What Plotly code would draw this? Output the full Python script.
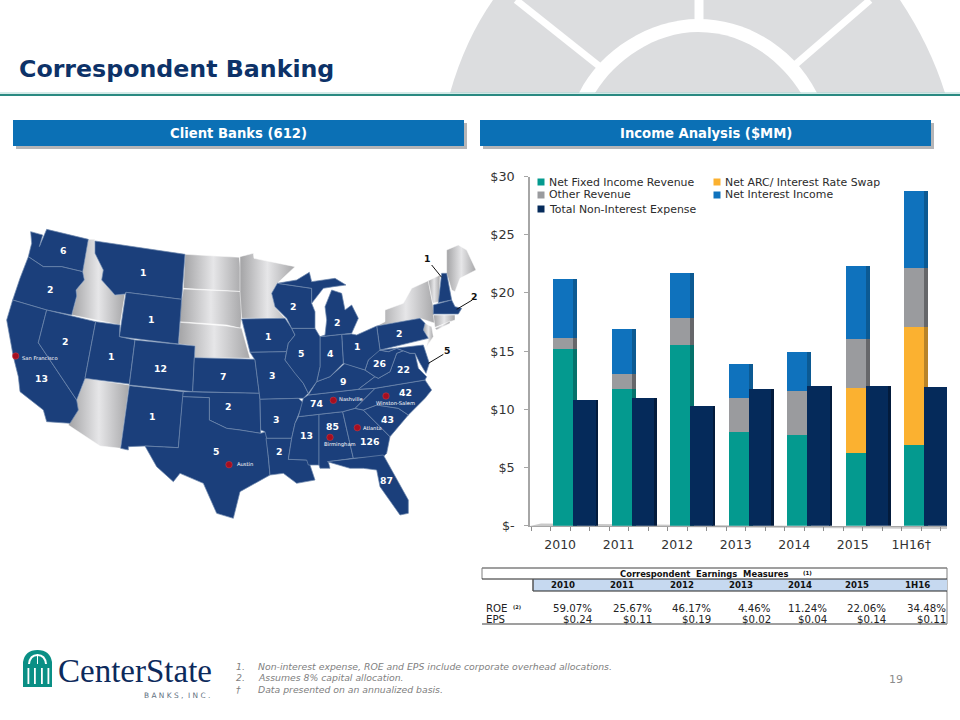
import numpy as np
import plotly.graph_objects as go

# ---------- chart data ----------
years = ["2010", "2011", "2012", "2013", "2014", "2015", "1H16\u2020"]
net_fixed = [15.2, 11.8, 15.6, 8.1, 7.85, 6.3, 6.95]
net_arc = [0, 0, 0, 0, 0, 5.6, 10.15]
other_rev = [1.0, 1.3, 2.25, 2.95, 3.8, 4.2, 5.05]
net_int = [5.05, 3.85, 3.9, 2.9, 3.3, 6.25, 6.65]
total_exp = [10.85, 11.0, 10.3, 11.75, 12.05, 12.05, 12.0]
y_ticks = [0, 5, 10, 15, 20, 25, 30]
y_labels = ["$-", "$5", "$10", "$15", "$20", "$25", "$30"]

table_years = ["2010", "2011", "2012", "2013", "2014", "2015", "1H16"]
roe = ["59.07%", "25.67%", "46.17%", "4.46%", "11.24%", "22.06%", "34.48%"]
eps = ["$0.24", "$0.11", "$0.19", "$0.02", "$0.04", "$0.14", "$0.11"]

map_states = ["WA","OR","MT","WY","NV","UT","CO","CA","KS","OK","NM","TX","WI","MI","IA","IL","IN","OH","PA",
              "WV","VA","MO","KY","NC","TN","AR","AL","MS","SC","GA","LA","FL"]
map_counts = [6,2,1,1,2,1,12,13,7,2,1,5,2,2,1,5,4,1,2,26,22,3,9,42,74,3,85,13,43,126,2,87]
callout_counts = [1, 2, 5]

TEAL, ORANGE, GREY, BLUE, NAVY = "#049a8f", "#fbb130", "#9a9b9e", "#0f72bd", "#052a5a"
SIDE = {TEAL: "#05726b", ORANGE: "#b98428", GREY: "#66676a", BLUE: "#0c5a93", NAVY: "#031b3c"}
series = [("Net Fixed Income Revenue", net_fixed, TEAL), ("Net ARC / Interest Rate Swap", net_arc, ORANGE),
          ("Other Revenue", other_rev, GREY), ("Net Interest Income", net_int, BLUE)]

W, H = 960, 720
def X(x): return x / W
def Y(y): return 1 - y / H

fig = go.Figure()
cats = np.arange(len(years))

# ---------- stacked bars ----------
base = np.zeros(len(years))
fronts = []
for name, vals, col in series:
    v = np.array(vals, float)
    fig.add_bar(x=cats, y=v, base=base.copy(), width=0.07, offset=0, marker=dict(color=SIDE[col], line_width=0),
                showlegend=False, hoverinfo="skip")
    fronts.append(dict(x=cats, y=v, base=base.copy(), width=0.34, offset=-0.34, name=name,
                       marker=dict(color=col, line_width=0), showlegend=False))
    base = base + v
fig.add_bar(x=cats, y=total_exp, width=0.05, offset=0.38, marker=dict(color=SIDE[NAVY], line_width=0),
            showlegend=False, hoverinfo="skip")
for f in fronts:
    fig.add_bar(**f)
fig.add_bar(x=cats, y=total_exp, width=0.385, offset=0, name="Total Non-Interest Expense",
            marker=dict(color=NAVY, line_width=0), showlegend=False)

# ---------- map geometry (zoomed-crop units) ----------
def L(p): return [(a / 3, 220 + b / 3) for a, b in p]
def R(p): return [(240 + a / 3, 220 + b / 3) for a, b in p]
def G(p): return [(270 + a / 3, 240 + b / 3) for a, b in p]

blue = [
 L([(92,35),(128,45),(118,80),(140,28),(265,58),(248,155),(185,140),(130,140),(85,110),(95,70)]),
 L([(85,110),(130,140),(185,140),(248,155),(253,180),(228,210),(230,228),(215,285),(140,270),(38,240),(60,175)]),
 L([(38,240),(140,270),(115,368),(230,540),(235,570),(210,610),(140,605),(130,570),(60,515),(55,470),(40,410),(20,300)]),
 L([(140,270),(287,305),(255,475),(245,500),(230,540),(115,368)]),
 L([(285,63),(555,103),(545,238),(378,217),(375,222),(345,225),(305,180),(310,150),(285,100)]),
 L([(378,217),(545,238),(535,372),(358,350)]),
 L([(287,305),(360,315),(358,350),(405,360),(388,492),(255,475)]),
 L([(405,360),(585,378),(578,515),(388,495)]),
 L([(388,497),(550,515),(535,683),(435,678),(385,680),(385,690),(362,685)]),
 L([(583,413),(765,418),(778,520),(578,515)]),
 L([(550,515),(778,520),(780,538),(782,640),(720,630),(680,625),(628,600),(628,533),(548,530)]),
 L([(548,530),(628,533),(628,600),(680,625),(720,630),(782,640),(798,635),(805,710),(810,765),(720,815),(700,895),(650,880),(610,790),(540,760),(520,785),(470,740),(435,678),(535,683)]),
 R([(5,297),(135,295),(155,325),(165,345),(145,370),(140,395),(30,397)]),
 R([(30,397),(140,395),(135,420),(165,460),(190,490),(205,520),(190,535),(175,535),(60,538),(45,420)]),
 R([(60,538),(175,535),(190,548),(165,610),(155,655),(80,655),(75,635),(62,630)]),
 R([(78,655),(155,655),(145,718),(205,720),(225,780),(170,790),(130,760),(90,765),(85,710)]),
 R([(165,610),(175,590),(237,583),(237,735),(205,735),(200,720),(145,718),(155,655)]),
 R([(237,583),(308,575),(340,715),(265,725),(270,745),(240,745),(237,735)]),
 R([(308,575),(345,565),(370,570),(450,650),(440,700),(430,710),(340,715)]),
 R([(262,725),(340,715),(430,705),(505,840),(505,880),(480,885),(440,830),(420,800),(410,750),(370,745),(330,745)]),
 R([(370,570),(410,555),(475,565),(505,585),(450,650)]),
 R([(345,565),(405,505),(555,480),(575,510),(555,535),(505,585),(475,565),(410,555),(370,570)]),
 R([(190,535),(205,525),(355,508),(405,505),(345,565),(308,575),(237,583),(175,590)]),
 R([(205,525),(230,485),(270,470),(315,430),(375,450),(405,470),(355,508)]),
 R([(355,508),(405,470),(415,475),(450,455),(470,400),(490,392),(510,400),(525,400),(535,445),(560,470),(555,480),(405,505)]),
 R([(375,450),(385,420),(415,390),(445,395),(470,385),(490,392),(470,400),(450,455),(415,475),(405,470)]),
 R([(410,318),(540,295),(555,310),(550,330),(565,355),(420,390)]),
 R([(420,390),(550,375),(568,430),(558,460),(540,430),(525,400),(510,400),(490,392),(470,385),(445,395)]),
 R([(305,343),(335,342),(350,345),(410,318),(420,390),(385,420),(375,450),(315,430),(310,430)]),
 R([(240,350),(305,343),(310,430),(270,470),(230,485),(240,440)]),
 R([(155,325),(225,325),(240,350),(240,440),(230,485),(205,520),(190,490),(165,460),(135,420),(145,370),(165,345)]),
 G([(5,160),(22,130),(125,145),(125,190),(135,215),(135,265),(65,265),(50,235),(15,200)]),
 G([(22,130),(80,120),(118,97),(125,125),(195,115),(228,135),(190,140),(160,145),(125,190),(125,145)]),
 G([(150,290),(165,285),(170,240),(165,200),(185,150),(215,160),(225,210),(245,195),(265,235),(245,280),(215,283)]),
 G([(515,100),(530,100),(545,180),(505,188)]),
 G([(490,195),(545,180),(555,200),(575,205),(565,222),(490,222)]),
]
silver = [
 L([(265,58),(285,58),(285,100),(310,150),(305,180),(345,225),(375,222),(360,315),(215,285),(230,228),(228,210),(253,180),(248,155)]),
 L([(255,475),(388,495),(362,685),(300,678),(205,615),(230,570),(230,540),(245,500)]),
 L([(555,103),(718,112),(730,215),(550,205)]),
 L([(550,207),(730,215),(722,325),(680,315),(535,305)]),
 L([(540,307),(680,318),(725,325),(750,415),(583,413),(585,378),(535,372)]),
 R([(0,110),(40,100),(42,115),(90,125),(165,140),(112,190),(95,220),(105,260),(135,295),(5,295),(0,215)]),
 G([(320,258),(345,245),(345,210),(400,190),(425,145),(475,122),(488,190),(495,250),(480,245),(450,235)]),
 G([(465,250),(485,260),(490,290),(470,320),(475,295),(460,270)]),
 G([(475,122),(510,105),(508,185),(488,190)]),
 G([(530,30),(565,15),(590,30),(618,90),(570,115),(555,155),(545,150),(530,100)]),
 G([(490,225),(555,225),(555,240),(495,262)]),
 G([(495,265),(540,243),(540,250),(500,270)]),
]
def poly(p, **kw):
    xs = [a for a, _ in p] + [p[0][0]]
    ys = [b for _, b in p] + [p[0][1]]
    fig.add_scatter(x=xs, y=ys, xaxis="x2", yaxis="y2", mode="lines", fill="toself", showlegend=False,
                    hoverinfo="skip", **kw)
for p in silver:
    poly(p, line=dict(color="#ffffff", width=0.5),
         fillgradient=dict(type="horizontal", colorscale=[[0, "#a3a3a5"], [0.5, "#e6e6e8"], [1, "#a6a6a8"]]))
for p in blue:
    poly(p, line=dict(color="#6f88ae", width=0.7), fillcolor="#1b3f7b")

# leaders and city dots
for seg_ in (R([(575,135),(605,172)]), R([(697,240),(650,268)]), R([(610,403),(565,430)])):
    fig.add_scatter(x=[s[0] for s in seg_], y=[s[1] for s in seg_], xaxis="x2", yaxis="y2", mode="lines",
                    line=dict(color="#111111", width=1), showlegend=False, hoverinfo="skip")
city_xy = L([(47,408),(687,734)]) + R([(280,541),(438,528),(352,623),(270,652)])
fig.add_scatter(x=[c[0] for c in city_xy], y=[c[1] for c in city_xy], xaxis="x2", yaxis="y2", mode="markers",
                marker=dict(color="#a50f20", size=6.5, line=dict(color="#d0404a", width=0.5)),
                showlegend=False, hoverinfo="skip")

# ---------- shapes & text ----------
shapes, notes = [], []
def path(d, fill, line=None, width=0):
    shapes.append(dict(type="path", path=d, xref="paper", yref="paper", fillcolor=fill, layer="below",
                       line=dict(color=line or fill, width=width)))
def P(cmds):
    out = []
    for c in cmds:
        out.append(c[0] + " ".join(f"{X(c[i])},{Y(c[i+1])}" for i in range(1, len(c), 2)))
    return " ".join(out)
def rect(x0, y0, x1, y1, fill, line=None, width=0):
    shapes.append(dict(type="rect", xref="paper", yref="paper", x0=X(x0), x1=X(x1), y0=Y(y0), y1=Y(y1),
                       fillcolor=fill, layer="below", line=dict(color=line or fill, width=width)))
def seg(x0, y0, x1, y1, col, w):
    shapes.append(dict(type="line", xref="paper", yref="paper", x0=X(x0), x1=X(x1), y0=Y(y0), y1=Y(y1),
                       layer="below", line=dict(color=col, width=w)))
def txt(x, y, s, size, col="#333333", anchor="center", font="DejaVu Sans", **kw):
    notes.append(dict(x=X(x), y=Y(y), xref="paper", yref="paper", text=s, showarrow=False, xanchor=anchor,
                      yanchor="middle", borderpad=0, font=dict(size=size, color=col, family=font), **kw))

# background emblem
SUN = "#dcdddf"
path(P([("M",450,93),("Q",465,40,493,0),("L",900,0),("Q",930,45,945,93),("Z",)]), SUN)
path(P([("M",579,93),("C",600,50,650,19,698,19),("C",750,19,795,50,817,93),("Z",)]), "#ffffff")
path(P([("M",595,93),("C",615,60,655,32,698,32),("C",745,32,780,60,801,93),("Z",)]), SUN)
seg(516, 0, 599, 66, "#ffffff", 7)
seg(870, 0, 796, 64, "#ffffff", 7)
seg(699, 0, 699, 22, "#ffffff", 9)

# title rule
seg(0, 93, 960, 93, "#a9d6d2", 1)
seg(0, 95, 960, 95, "#2a8a82", 2)
txt(18, 69, "<b>Correspondent Banking</b>", 23.7, "#0d3268", "left")

# section bars
for x0, x1, label in [(13, 464, "Client Banks (612)"), (480, 931, "Income Analysis ($MM)")]:
    rect(x0 + 3, 123, x1 + 3, 149, "#b5b5b7")
    rect(x0, 120, x1, 146, "#0b70b5")
    txt((x0 + x1) / 2, 133, f"<b>{label}</b>", 13.2, "#ffffff")

# floor of the chart
path(P([("M",530,526),("L",541,523.5),("L",947,527),("L",947,529),("Z",)]), "#c9c9c9")

# legend
leg_xy = [(541, 182), (717, 182), (541, 195), (717, 195), (541, 209)]
leg_items = [(n, c) for n, _, c in series]
leg_order = [leg_items[0], leg_items[1], leg_items[2], leg_items[3], ("Total Non-Interest Expense", NAVY)]
for (x, y), (name, col) in zip(leg_xy, leg_order):
    shapes.append(dict(type="rect", xref="paper", yref="paper", x0=X(x - 3.5), x1=X(x + 3.5), y0=Y(y + 3.5),
                       y1=Y(y - 3.5), fillcolor=col, line_width=0, layer="above"))
    txt(x + 7, y, name.replace("ARC / ", "ARC/ "), 10.9, "#2b2b2b", "left")

# map labels
label_xy = L([(188,92),(150,208),(428,157),(453,298),(195,365),(333,410),(480,446),(123,476),(668,470),(685,560),(455,590),(648,695)]) + \
           R([(158,260),(290,308),(83,350),(183,400),(270,400),(350,380),(477,341),(418,430),(490,450),(95,466),(308,484),
              (497,517),(230,550),(107,598),(278,620),(198,648),(443,598),(387,665),(117,695),(440,782)])
for (x, y), n in zip(label_xy, map_counts):
    txt(x, y, f"<b>{n}</b>", 9.3, "#ffffff")
for (x, y), n in zip(R([(560,116),(702,230),(622,392)]), callout_counts):
    txt(x, y, f"<b>{n}</b>", 9.3, "#111111")
city_labels = [("San Francisco", L([(63,413)])[0], "left"), ("Austin", (236, 464), "left"),
               ("Nashville", R([(293,537)])[0], "left"), ("Winston-Salem", R([(405,549)])[0], "left"),
               ("Atlanta", R([(365,623)])[0], "left"), ("Birmingham", R([(248,672)])[0], "left")]
for name, (x, y), a in city_labels:
    txt(x, y, name, 5.2, "#ffffff", a)

# table
seg(482, 568, 947, 568, "#7f7f7f", 1.5)
seg(482, 568, 482, 579, "#7f7f7f", 1)
seg(947, 568, 947, 624, "#7f7f7f", 1)
rect(533, 579, 947, 591, "#c6d9f0")
seg(482, 579, 947, 579, "#222222", 1)
seg(533, 591, 947, 591, "#222222", 1)
seg(533, 579, 533, 591, "#555555", 1.5)
seg(482, 624, 947, 624, "#7f7f7f", 1.5)
txt(704, 573.5, "<b>Correspondent  Earnings  Measures</b>", 8.4, "#111111")
txt(807, 572.5, "<b>(1)</b>", 5.5, "#111111")
yr_c = [563, 622, 682, 741, 800, 857, 917]
col_r = [593, 653, 712, 772, 828, 887, 947]
for i in range(7):
    txt(yr_c[i], 585, f"<b>{table_years[i]}</b>", 8.6, "#111111")
    txt(col_r[i], 608, roe[i], 10.2, "#222222", "right")
    txt(col_r[i], 619, eps[i], 10.2, "#222222", "right")
txt(485, 608, "ROE", 10.2, "#222222", "left")
txt(512, 607, "<b>(2)</b>", 5, "#222222", "left")
txt(485, 619, "EPS", 10.2, "#222222", "left")

# footnotes
for y, a, b in [(666, "1.", "Non-interest expense, ROE and EPS include corporate overhead allocations."),
                (677.5, "2.", "Assumes 8% capital allocation."),
                (689.5, "\u2020", "Data presented on an annualized basis.")]:
    txt(235, y, f"<i>{a}</i>", 9.3, "#808080", "left")
    txt(257, y, f"<i>{b}</i>", 9.3, "#808080", "left")
txt(896, 679, "19", 11, "#8c8c8c")

# logo
LOGO = "#0a8f85"
path(P([("M",23,687),("L",23,662),("Q",25,650,37.5,650),("Q",50,650,52,662),("L",52,687),("Z",)]), LOGO)
path(P([("M",28,664),("Q",29,654,37.5,654),("Q",46,654,47,664),("Z",)]), "#ffffff")
path(P([("M",30,664),("Q",31,656,37.5,656),("Q",44,656,45,664),("Z",)]), LOGO)
for xa in (27.5, 34, 41, 47.5):
    rect(xa, 668, xa + 1.8, 684, "#ffffff")
seg(37.5, 654, 37.5, 664, "#ffffff", 1)
txt(57, 671, "CenterState", 33, "#0c2a5c", "left", "Liberation Serif")
txt(211, 695, "B A N K S ,  I N C .", 7.4, "#5f6f80", "right")

# ---------- layout ----------
fig.update_layout(
    width=W, height=H, autosize=False, margin=dict(l=0, r=0, t=0, b=0, pad=0),
    paper_bgcolor="#ffffff", plot_bgcolor="rgba(0,0,0,0)", barmode="overlay", bargap=0,
    showlegend=False, shapes=shapes, annotations=notes,
    font=dict(family="DejaVu Sans", color="#333333"),
    xaxis=dict(domain=[X(530), X(947)], range=[-0.735, 6.39], tickmode="array", tickvals=list(cats - 0.22),
               ticktext=years, ticks="", tickfont=dict(size=12.5, color="#333333"), showgrid=False, zeroline=False,
               showline=True, linecolor="#a6a6a6", linewidth=1, fixedrange=True, automargin=False, ticklabelstandoff=7,
               minor=dict(ticks="outside", tick0=-0.05, dtick=1 / 3, ticklen=4, tickcolor="#8c8c8c", showgrid=False)),
    yaxis=dict(domain=[Y(525.7), Y(176.5)], range=[0, 30], tickmode="array", tickvals=y_ticks, ticktext=y_labels,
               ticks="outside", ticklen=4, tickcolor="#a6a6a6", tickfont=dict(size=12.8, color="#333333"),
               showgrid=False, zeroline=False, showline=True, linecolor="#a6a6a6", linewidth=1.5, fixedrange=True,
               automargin=False, ticklabelstandoff=7),
    xaxis2=dict(domain=[0, 1], range=[0, W], visible=False, anchor="y2", fixedrange=True, automargin=False),
    yaxis2=dict(domain=[0, 1], range=[H, 0], visible=False, anchor="x2", fixedrange=True, automargin=False),
)

fig.write_html("out.html", config=dict(displayModeBar=False),
               post_script="document.body.style.margin='0';document.body.style.overflow='hidden';")
